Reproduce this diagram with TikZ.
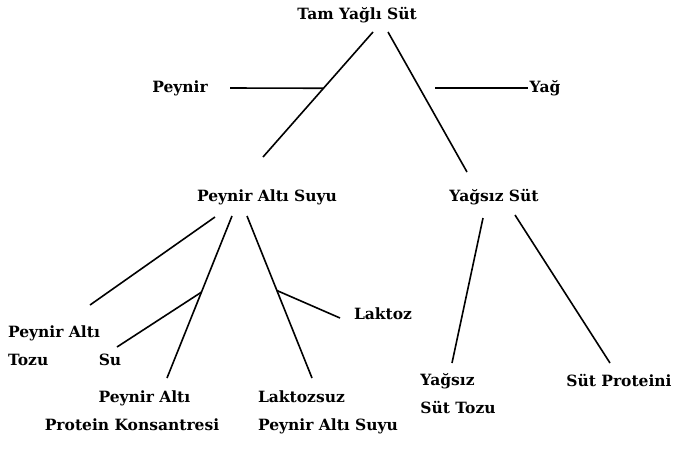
\documentclass[tikz,border=0pt]{standalone}
\usepackage{fontspec}
\setmainfont{DejaVu Serif}
\usetikzlibrary{calc}
\begin{document}
\begin{tikzpicture}[x=1pt, y=-1pt,
	font=\bfseries\fontsize{15.5}{28}\selectfont,
	every node/.style={inner sep=0pt},
	branch/.style={line width=1.6pt}]
	\useasboundingbox (0,0) rectangle (674,448);
	%nodes
	\node (tam) at (357,15) {Tam Yağlı Süt};
	\node (peynir) at (180,88) {Peynir};
	\node (yag) at (545,88) {Yağ};
	\node (pas) at (267,197) {Peynir Altı Suyu};
	\node (yss) at (494,197) {Yağsız Süt};
	\node[align=left] (pat) at (54,346) {Peynir Altı\\Tozu};
	\node (su) at (110,360) {Su};
	\node[align=center] (papk) at (132,411) {\hspace*{1.6em}Peynir Altı\\Protein Konsantresi};
	\node[align=left] (lpas) at (328,412) {Laktozsuz\\Peynir Altı Suyu};
	\node (laktoz) at (383,314) {Laktoz};
	\node[align=left] (yst) at (458,394) {Yağsız\\Süt Tozu};
	\node (sp) at (619,380) {Süt Proteini};
	%top lines
	\draw[branch] ($(tam)+(16,17)$) -- coordinate[pos=0.45] (j1) ($(pas)+(-4,-40)$);
	\draw[branch] ($(tam)+(31,17)$) -- ($(yss)+(-27,-25)$);
	\draw[branch] ($(peynir)+(50,0)$) -- (j1);
	\draw[branch] ($(yag)+(-110,0)$) -- ($(yag)+(-17,0)$);
	%peynir alti suyu
	\draw[branch] ($(pas)+(-52,20)$) -- ($(pat)+(36,-41)$);
	\draw[branch] ($(pas)+(-35,19)$) -- coordinate[pos=0.47] (j2) ($(papk)+(35,-33)$);
	\draw[branch] (j2) -- ($(su)+(7,-13)$);
	\draw[branch] ($(pas)+(-20,19)$) -- coordinate[pos=0.46] (j3) ($(lpas)+(-16,-34)$);
	\draw[branch] (j3) -- ($(laktoz)+(-43,4)$);
	%yagsiz sut
	\draw[branch] ($(yss)+(-11,21)$) -- ($(yst)+(-6,-31)$);
	\draw[branch] ($(yss)+(21,18)$) -- ($(sp)+(-9,-17)$);
\end{tikzpicture}
\end{document}
